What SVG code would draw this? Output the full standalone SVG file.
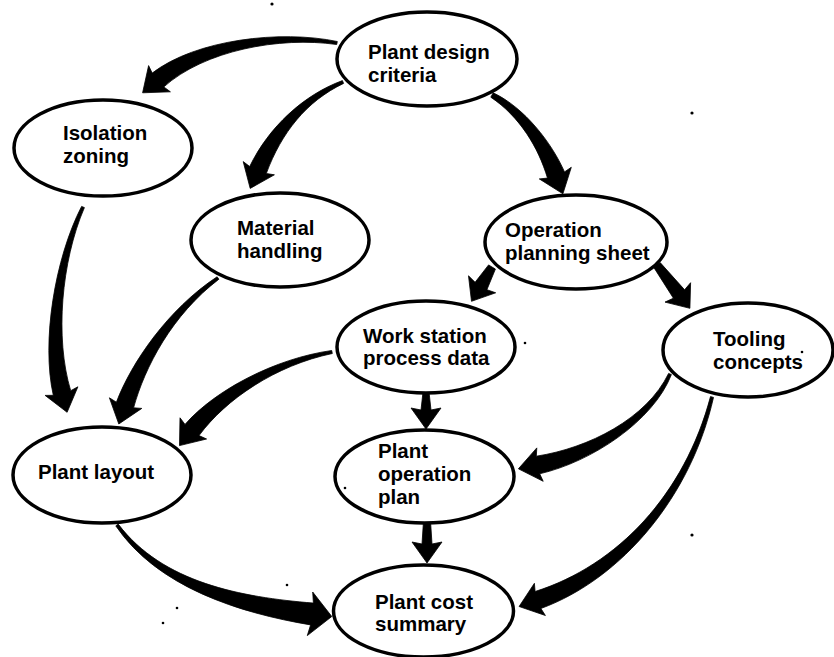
<svg xmlns="http://www.w3.org/2000/svg" width="834" height="657" viewBox="0 0 834 657">
  <style>
    .node ellipse { fill: #fff; stroke: #000; stroke-width: 3.5; }
    .lbl { font-family: "Liberation Sans", Arial, sans-serif; font-weight: bold; font-size: 20.5px; fill: #000; }
    .arrow { fill: #000; stroke: #000; stroke-width: 0.8; stroke-linejoin: round; }
    .speck { fill: #000; }
  </style>

  <!-- tapered brush-style connectors with broad heads -->
  <g id="connectors">
    <path class="arrow" d="M337.3,41.5 C280.6,29.6 195.5,39.6 152.2,73.1 L148.6,65.6 L142.6,92.8 L170.4,91.8 L163.8,86.9 C204.5,50.4 279.4,36.4 336.7,44.5 Z"/>
    <path class="arrow" d="M342.4,80.6 C303.6,94.8 268.6,127.3 249.7,166.5 L243.2,161.6 L250.2,188.4 L274.4,174.8 L266.3,173.5 C281.4,132.7 306.4,101.2 343.6,83.4 Z"/>
    <path class="arrow" d="M490.8,97.2 C519.5,116.4 538.4,147.4 547.5,178.1 L539.3,178.9 L562.9,193.8 L571.3,167.3 L564.5,171.9 C551.6,142.6 524.5,107.7 493.2,92.8 Z"/>
    <path class="arrow" d="M81.6,206.4 C54.8,258.5 41.2,341.8 53.3,395.3 L45.1,395.4 L67.1,412.3 L77.9,386.8 L70.7,390.7 C54.8,338.2 61.2,261.5 84.4,207.6 Z"/>
    <path class="arrow" d="M217.1,276.8 C168,309.1 131.3,362.8 116.4,402.2 L109.4,397.8 L118.8,424 L141.8,408.4 L133.6,407.8 C144.7,367.2 172,314.9 218.9,279.2 Z"/>
    <path class="arrow" d="M331.7,350.5 C274.4,358.6 214.5,390.6 185,424.4 L180,417.8 L179.5,445.6 L206.6,439 L199,435.6 C225.5,399.4 275.6,365.4 332.3,353.5 Z"/>
    <path class="arrow" d="M488.6,264.9 L475.1,282.3 L468.5,275.8 L471.5,301.3 L495.7,292.8 L486.9,289.7 L495.4,269.1 Z"/>
    <path class="arrow" d="M653.8,267.4 L673.4,298.2 L665,302.1 L689.9,308.3 L690.6,282.7 L684.6,289.8 L660.2,262.6 Z"/>
    <path class="arrow" d="M423,392 L421,410 L411,408 L426,429 L441,408 L431,410 L429,392 Z"/>
    <path class="arrow" d="M424,513 L422,544 L412,542 L427,563 L442,542 L432,544 L430,513 Z"/>
    <path class="arrow" d="M668.6,373.4 C646.8,418.6 588.7,448.1 536.3,456.2 L536.8,447.9 L518.4,468.8 L543.2,481.3 L539.7,473.8 C591.3,461.9 653.2,421.4 671.4,374.6 Z"/>
    <path class="arrow" d="M710.5,396.6 C684.6,494.2 617.7,565.4 535.1,591.5 L534.4,583.3 L519.1,606.5 L545.4,615.5 L540.9,608.5 C622.3,578.6 691.4,495.8 713.5,397.4 Z"/>
    <path class="arrow" d="M115.8,525.9 C157.2,587 239,612.9 310.6,624.9 L307.3,635.6 L331.8,616.5 L312.7,592 L313.4,603.1 C241,597.1 162.8,583 118.2,524.1 Z"/>
  </g>

  <g id="plant-design-criteria" class="node">
    <ellipse cx="427" cy="59" rx="90" ry="47"/>
    <text class="lbl" x="368" y="59">Plant design</text>
    <text class="lbl" x="368" y="82">criteria</text>
  </g>

  <g id="isolation-zoning" class="node">
    <ellipse cx="103" cy="148" rx="89" ry="48"/>
    <text class="lbl" x="63" y="140">Isolation</text>
    <text class="lbl" x="63" y="163">zoning</text>
  </g>

  <g id="material-handling" class="node">
    <ellipse cx="280" cy="240" rx="89" ry="47"/>
    <text class="lbl" x="237" y="235">Material</text>
    <text class="lbl" x="237" y="258">handling</text>
  </g>

  <g id="operation-planning-sheet" class="node">
    <ellipse cx="576" cy="242" rx="91" ry="47"/>
    <text class="lbl" x="505" y="237">Operation</text>
    <text class="lbl" x="505" y="260">planning sheet</text>
  </g>

  <g id="work-station-process-data" class="node">
    <ellipse cx="426" cy="347" rx="89" ry="46"/>
    <text class="lbl" x="363" y="343">Work station</text>
    <text class="lbl" x="363" y="365">process data</text>
  </g>

  <g id="tooling-concepts" class="node">
    <ellipse cx="748" cy="350" rx="85" ry="47"/>
    <text class="lbl" x="713" y="346">Tooling</text>
    <text class="lbl" x="713" y="369">concepts</text>
  </g>

  <g id="plant-layout" class="node">
    <ellipse cx="102" cy="475" rx="89" ry="48"/>
    <text class="lbl" x="38" y="479">Plant layout</text>
  </g>

  <g id="plant-operation-plan" class="node">
    <ellipse cx="424.5" cy="476.5" rx="89.5" ry="46.5"/>
    <text class="lbl" x="378" y="458">Plant</text>
    <text class="lbl" x="378" y="481">operation</text>
    <text class="lbl" x="378" y="504">plan</text>
  </g>

  <g id="plant-cost-summary" class="node">
    <ellipse cx="423.5" cy="611" rx="90" ry="46"/>
    <text class="lbl" x="375" y="609">Plant cost</text>
    <text class="lbl" x="375" y="631">summary</text>
  </g>

  <!-- loose specks on the sheet -->
  <g id="specks">
    <circle class="speck" cx="272" cy="4" r="1.6"/>
    <circle class="speck" cx="692" cy="113" r="1.6"/>
    <circle class="speck" cx="525" cy="343" r="1.3"/>
    <circle class="speck" cx="802" cy="352" r="1.3"/>
    <circle class="speck" cx="345" cy="488" r="1.3"/>
    <circle class="speck" cx="287" cy="585" r="1.3"/>
    <circle class="speck" cx="163" cy="623" r="1.3"/>
    <circle class="speck" cx="177" cy="608" r="1.3"/>
    <circle class="speck" cx="692" cy="535" r="1.6"/>
  </g>
</svg>
